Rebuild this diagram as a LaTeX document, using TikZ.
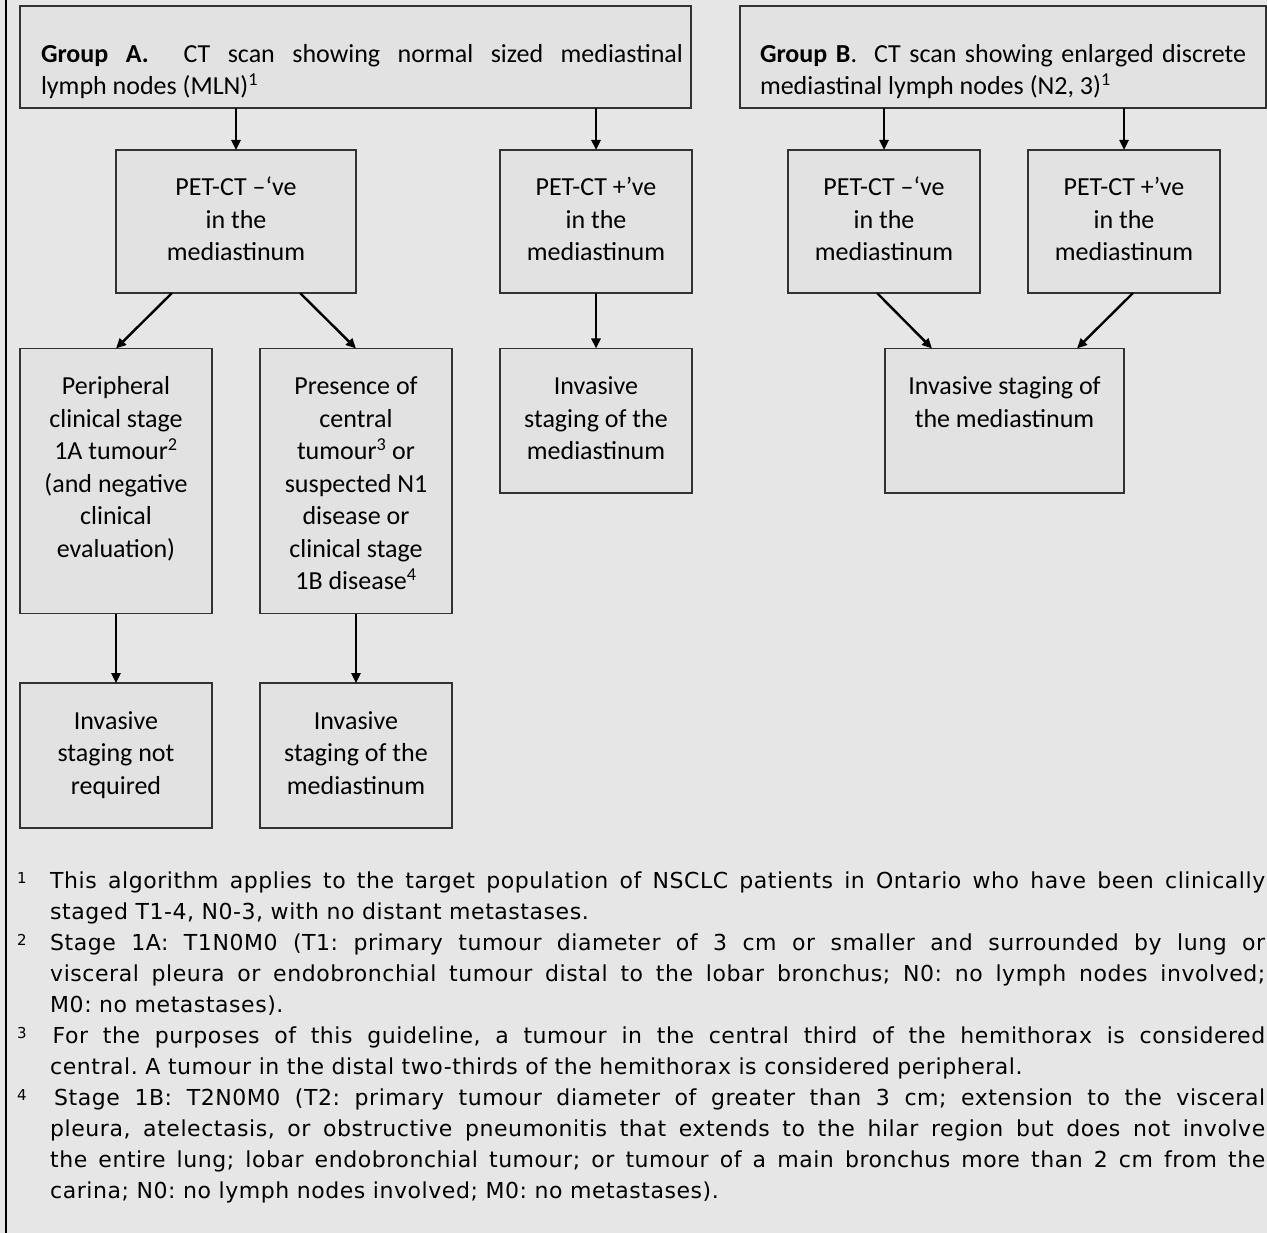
\documentclass[tikz,border=0pt]{standalone}
\usepackage{fontspec}
\setmainfont{Carlito}
\newfontfamily\fnfont[LetterSpace=2.5]{DejaVu Sans}
\usetikzlibrary{arrows.meta,calc}
\definecolor{bgc}{RGB}{230,230,230}
\definecolor{boxc}{RGB}{226,226,226}
\definecolor{bordc}{RGB}{50,50,50}
\newcommand\btext[3]{\parbox[c][#2][t]{#1}{\centering\fontsize{26pt}{32.5pt}\selectfont\rule{0pt}{46pt}#3}}
\newcommand\fnsup[1]{\raisebox{5pt}{\fontsize{15pt}{15pt}\selectfont #1}}
\begin{document}
\begin{tikzpicture}[x=1pt,y=-1pt,
  box/.style={draw=bordc, fill=boxc, line width=1.3pt, inner sep=0pt, outer sep=0pt, text=black},
  arr/.style={line width=2.4pt, -{Triangle[length=10pt,width=9pt]}}]
\useasboundingbox (0,0) rectangle (1267,1233);
\fill[bgc] (0,0) rectangle (1267,1233);
\draw[line width=2.6pt] (6,0) -- (6,1233);

% top boxes
\node[box] (gA) at (355.5,57) {\parbox[c][102pt][t]{671pt}{\fontsize{26pt}{32pt}\selectfont\tolerance=10000\leftskip=21pt\rightskip=8pt\rule{0pt}{57pt}\textbf{Group A.}\ \ CT scan showing normal sized mediastinal\linebreak lymph nodes (MLN)\textsuperscript{1}}};
\node[box] (gB) at (1003,57) {\parbox[c][102pt][t]{526pt}{\fontsize{26pt}{32pt}\selectfont\tolerance=10000\leftskip=20pt\rightskip=20pt\rule{0pt}{57pt}\textbf{Group B}.\ \ CT scan showing enlarged discrete\linebreak mediastinal lymph nodes (N2, 3)\textsuperscript{1}}};

% second row
\node[box] (pAn) at (236,221.5) {\btext{240pt}{143pt}{PET-CT –‘ve\\in the\\mediastinum}};
\node[box] (pAp) at (596,221.5) {\btext{192pt}{143pt}{PET-CT +’ve\\in the\\mediastinum}};
\node[box] (bN) at (884,221.5) {\btext{192pt}{143pt}{PET-CT –‘ve\\in the\\mediastinum}};
\node[box] (bP) at (1124,221.5) {\btext{192pt}{143pt}{PET-CT +’ve\\in the\\mediastinum}};

% third row
\node[box] (per) at (116,481) {\btext{192pt}{265pt}{Peripheral\\clinical stage\\1A tumour\textsuperscript{2}\\(and negative\\clinical\\evaluation)}};
\node[box] (pres) at (356,481) {\btext{192pt}{265pt}{Presence of\\central\\tumour\textsuperscript{3} or\\suspected N1\\disease or\\clinical stage\\1B disease\textsuperscript{4}}};
\node[box] (aI) at (596,420.75) {\btext{192pt}{144.5pt}{Invasive\\staging of the\\mediastinum}};
\node[box] (bI) at (1004.5,420.75) {\btext{239pt}{144.5pt}{Invasive staging of\\the mediastinum}};

% fourth row
\node[box] (pl) at (116,755.5) {\btext{192pt}{145pt}{Invasive\\staging not\\required}};
\node[box] (pr) at (356,755.5) {\btext{192pt}{145pt}{Invasive\\staging of the\\mediastinum}};

% arrows
\draw[arr] (gA.south -| pAn.north) -- (pAn.north);
\draw[arr] (gA.south -| pAp.north) -- (pAp.north);
\draw[arr] (gB.south -| bN.north) -- (bN.north);
\draw[arr] (gB.south -| bP.north) -- (bP.north);
\draw[arr] ($(pAn.south)+(-64,0)$) -- (per.north);
\draw[arr] ($(pAn.south)+(64,0)$) -- (pres.north);
\draw[arr] (pAp.south) -- (aI.north);
\draw[arr] ($(bN.south)+(-7,0)$) -- ($(bI.north)+(-72.5,0)$);
\draw[arr] ($(bP.south)+(9,0)$) -- ($(bI.north)+(72.5,0)$);
\draw[arr] (per.south) -- (pl.north);
\draw[arr] (pres.south) -- (pr.north);

% footnotes
\node[anchor=north west, inner sep=0pt, text width=1248pt, align=justify] (fn) at (17,866) {\fnfont\fontsize{22pt}{31pt}\selectfont\frenchspacing\tolerance=10000\hyphenpenalty=10000
\hangindent=33pt\hangafter=1\noindent\makebox[33pt][l]{\fnsup{1}}\rule{0pt}{22pt}This algorithm applies to the target population of NSCLC patients in Ontario who have been clinically\linebreak staged T1-4, N0-3, with no distant metastases.\par
\hangindent=33pt\hangafter=1\noindent\makebox[33pt][l]{\fnsup{2}}Stage 1A: T1N0M0 (T1: primary tumour diameter of 3 cm or smaller and surrounded by lung or\linebreak visceral pleura or endobronchial tumour distal to the lobar bronchus; N0: no lymph nodes involved;\linebreak M0: no metastases).\par
\hangindent=33pt\hangafter=1\noindent\makebox[35.5pt][l]{\fnsup{3}}For the purposes of this guideline, a tumour in the central third of the hemithorax is considered\linebreak central. A tumour in the distal two-thirds of the hemithorax is considered peripheral.\par
\hangindent=33pt\hangafter=1\noindent\makebox[37pt][l]{\fnsup{4}}Stage 1B: T2N0M0 (T2: primary tumour diameter of greater than 3 cm; extension to the visceral\linebreak pleura, atelectasis, or obstructive pneumonitis that extends to the hilar region but does not involve\linebreak the entire lung; lobar endobronchial tumour; or tumour of a main bronchus more than 2 cm from the\linebreak carina; N0: no lymph nodes involved; M0: no metastases).\par};
\end{tikzpicture}
\end{document}
